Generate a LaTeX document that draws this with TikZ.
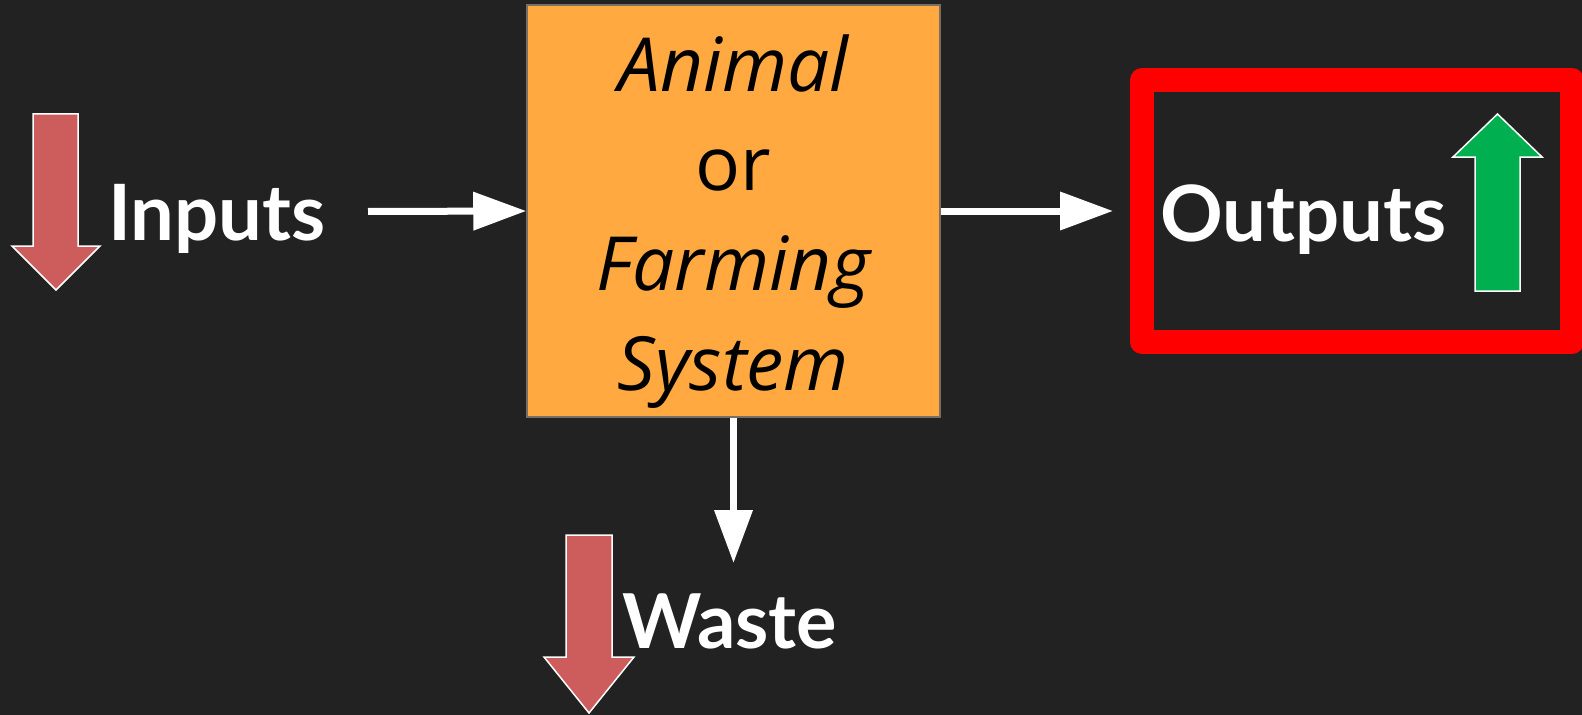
\documentclass[tikz,border=0pt]{standalone}
\usepackage{fontspec}
\setmainfont{Open Sans}
\newfontfamily\labelfont{Lato}
\usetikzlibrary{arrows.meta}
\definecolor{bgc}{RGB}{34,34,34}
\definecolor{boxorange}{RGB}{255,169,64}
\definecolor{boxedge}{RGB}{120,110,100}
\definecolor{downred}{RGB}{205,92,92}
\definecolor{upgreen}{RGB}{0,176,80}
\definecolor{framered}{RGB}{255,0,0}
\tikzset{
  conn/.style={draw=white, line width=7bp, -{Triangle[length=53bp,width=37bp]}},
  blockarrow/.style={draw=white, line width=1.5bp, line join=miter},
  lbl/.style={text=white, inner sep=0pt, anchor=base west, font=\labelfont\bfseries\fontsize{78}{94}\selectfont},
}
\begin{document}
\begin{tikzpicture}[x=1bp,y=-1bp]
\fill[bgc] (0,0) rectangle (1582,715);
\useasboundingbox (0,0) rectangle (1582,715);

% central system box
\node[draw=boxedge, line width=1.5bp, fill=boxorange, minimum width=413bp, minimum height=412bp, inner sep=0pt] (sys) at (733.5,211) {};
\node[text=black, align=center, inner sep=0pt, font=\fontsize{75}{100}\selectfont, anchor=base] (systxt) at (733.5,390)
  {\itshape Animal\\or\\\itshape Farming\\\itshape System};

% outputs frame
\node[draw=framered, line width=24bp, line join=round, minimum width=430bp, minimum height=262bp, inner sep=0pt] (outbox) at (1357,211) {};

% labels
\node[lbl] (inputs) at (108,240) {Inputs};
\node[lbl] (outputs) at (1160,241) {Outputs};
\node[lbl, font=\labelfont\bfseries\fontsize{76}{90}\selectfont] (waste) at (622,648) {Waste};

% block arrows
\path[blockarrow, fill=downred] (33,114) -- (78,114) -- (78,246) -- (100,246) -- (56,290) -- (12,246) -- (33,246) -- cycle;
\path[blockarrow, fill=upgreen] (1475,291) -- (1520,291) -- (1520,157) -- (1542,157) -- (1497.5,114) -- (1453,157) -- (1475,157) -- cycle;
\path[blockarrow, fill=downred] (566,535) -- (612,535) -- (612,657) -- (634,657) -- (589,713) -- (544,657) -- (566,657) -- cycle;

% connectors
\coordinate (instart) at (368,211.5);
\coordinate (wasteend) at (733.5,563);
\draw[conn] (instart) -- (sys.west);
\draw[conn, shorten >=17bp] (sys.east) -- (outbox.west);
\draw[conn] (sys.south) -- (wasteend);
\end{tikzpicture}
\end{document}
